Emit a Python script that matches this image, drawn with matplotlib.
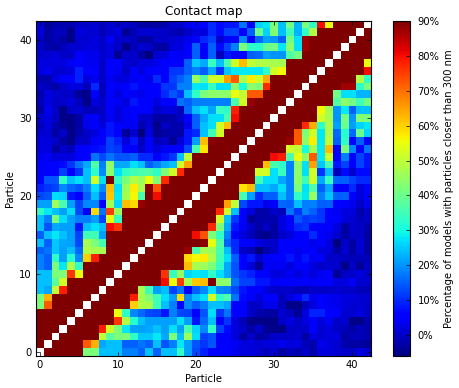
import matplotlib
matplotlib.use("Agg")
import matplotlib.pyplot as plt
import numpy as np

# upper triangle of the contact map, row i holds columns i+1 .. 42 (percent)
upper_rows = [
    [90,90,90,90,90,42,42,24,24,24,18,18,15,24,15,24,24,33,21,13,9,5,5,5,3,2,2,1,-1,1,-3,-1,-2,0,-2,2,2,1,0,0,2,1],
    [90,90,90,90,72,63,22,24,24,15,15,17,15,24,14,18,28,21,14,11,14,5,5,4,2,2,1,2,2,3,2,2,-1,-2,3,2,1,-2,-3,-3,-4],
    [90,90,90,90,90,50,38,42,42,33,25,25,28,22,42,24,46,27,12,14,5,5,2,-3,0,-3,-2,0,0,0,1,-3,2,1,2,2,-3,-1,-1,-2],
    [90,90,90,90,78,52,42,28,21,21,22,24,21,27,21,36,26,19,33,12,7,2,0,-3,0,-4,-5,-5,0,0,0,5,1,2,0,-1,-3,-1,-2],
    [90,90,90,90,90,76,48,32,24,21,21,21,21,27,21,8,16,24,5,11,2,-1,-5,-5,-5,-5,0,2,0,2,5,2,4,0,1,-5,-5,-2],
    [90,90,90,90,55,33,19,16,13,12,8,18,13,12,5,14,27,11,17,5,5,0,-2,-3,-3,1,-1,-4,2,9,9,5,5,1,1,2,0],
    [90,90,90,90,90,60,48,47,35,24,18,6,19,15,18,24,24,22,5,5,0,0,3,3,-1,-5,-5,-1,2,5,4,3,2,1,1,0],
    [90,90,90,90,78,47,42,35,27,21,59,19,24,27,52,33,37,17,7,5,2,5,5,-1,2,5,10,3,5,4,3,2,2,1,1],
    [90,90,90,90,47,35,21,24,12,17,5,15,19,27,19,18,13,8,5,5,2,0,0,0,-1,-1,0,0,0,1,0,0,-1,-1],
    [90,90,90,90,90,90,80,55,75,47,61,62,90,44,44,17,12,12,8,8,4,5,5,5,5,4,5,5,2,2,4,1,1],
    [90,90,90,90,90,76,34,45,26,28,27,33,27,22,14,11,9,6,5,2,2,4,2,4,2,4,5,-4,0,0,2,0],
    [90,90,90,90,90,90,90,62,47,46,42,33,22,14,5,2,-4,4,4,4,2,5,5,2,0,1,0,-5,0,-4,0],
    [90,90,90,90,90,90,59,56,57,48,35,27,15,5,8,1,4,5,5,8,4,8,4,5,0,0,-1,-1,-1,-1],
    [90,90,90,90,90,88,36,47,46,36,24,10,0,-1,-6,-2,0,5,5,3,5,5,2,2,-3,1,-3,1,-3],
    [90,90,90,90,90,90,89,55,37,15,10,5,5,2,1,0,5,5,5,5,3,5,2,-6,0,-3,1,-3],
    [90,90,90,90,80,73,42,33,18,5,2,-1,-4,-5,-3,0,2,5,5,10,5,3,1,-3,0,0,-3],
    [90,90,90,90,90,77,42,22,8,4,0,-3,0,-3,2,5,10,11,5,6,5,2,-3,0,0,-2],
    [90,90,90,90,90,52,24,11,5,-4,-2,-2,-2,2,5,14,11,12,11,5,5,2,1,-1,0],
    [90,90,90,90,77,52,24,6,2,-3,-2,0,-1,17,11,18,15,11,5,4,2,2,-2,0],
    [90,90,90,90,65,50,13,8,8,3,5,16,15,24,18,18,15,15,6,5,3,0,3],
    [90,90,90,90,90,36,21,10,15,15,24,18,33,28,45,18,25,15,15,6,2,5],
    [90,90,90,90,58,62,24,24,22,27,18,42,27,37,15,22,5,5,10,2,5],
    [90,90,90,90,89,35,27,27,22,18,44,34,52,22,34,15,15,12,10,10],
    [90,90,90,90,52,52,27,34,18,44,27,52,11,24,-1,7,1,7,7],
    [90,90,90,90,62,36,33,18,44,27,65,25,36,8,12,5,12,8],
    [90,90,90,90,80,78,36,55,44,72,28,52,5,18,5,12,8],
    [90,90,90,90,90,52,50,30,47,28,62,5,42,19,5,17],
    [90,90,90,90,88,72,44,57,28,50,15,33,5,15,5],
    [90,90,90,90,72,42,52,28,48,16,32,16,40,26],
    [90,90,90,90,77,64,33,48,21,40,21,26,28],
    [90,90,90,90,90,52,47,20,41,20,43,42],
    [90,90,90,90,56,47,20,28,15,24,24],
    [90,90,90,90,90,37,44,41,35,41],
    [90,90,90,90,41,27,27,23,23],
    [90,90,90,90,87,87,33,42],
    [90,90,90,90,90,48,33],
    [90,90,90,90,90,80],
    [90,90,90,90,55],
    [90,90,90,90],
    [90,90,90],
    [90,90],
    [90],
]
n_particles = 43
cbar_ticks = [0, 10, 20, 30, 40, 50, 60, 70, 80, 90]
cbar_labels = ["0%", "10%", "20%", "30%", "40%", "50%", "60%", "70%", "80%", "90%"]

matrix = np.full((n_particles, n_particles), np.nan)
for i, row in enumerate(upper_rows):
    assert len(row) == n_particles - 1 - i, i
    for k, val in enumerate(row):
        matrix[i, i + 1 + k] = val
        matrix[i + 1 + k, i] = val

W, H = 460.0, 388.0
fig = plt.figure(figsize=(4.6, 3.88), dpi=100, facecolor="white")
ax = fig.add_axes([36 / W, 1 - 356 / H, 335.5 / W, 335 / H])
im = ax.imshow(matrix, origin="lower", cmap="jet", vmin=-6, vmax=90,
               interpolation="nearest", aspect="auto")
ax.set_xticks([0, 10, 20, 30, 40])
ax.set_yticks([0, 10, 20, 30, 40])
ax.tick_params(direction="in", top=True, right=True, length=3, width=0.5, labelsize=7.2, pad=3)
for s in ax.spines.values():
    s.set_linewidth(0.8)
ax.set_title("Contact map", fontsize=8.64, pad=4.5)
ax.set_xlabel("Particle", fontsize=7.2, labelpad=3)
ax.set_ylabel("Particle", fontsize=7.2, labelpad=3)

cax = fig.add_axes([393 / W, 1 - 356 / H, 17.5 / W, 335 / H])
cbar = fig.colorbar(im, cax=cax, ticks=cbar_ticks)
cbar.ax.set_yticklabels(cbar_labels)
cbar.ax.tick_params(direction="in", length=3, width=0.5, labelsize=7.2, pad=5)
cbar.outline.set_linewidth(0.8)
cbar.set_label("Percentage of models with particles closer than 300 nm", fontsize=7.2, labelpad=3)

fig.savefig("out.png", dpi=100)
